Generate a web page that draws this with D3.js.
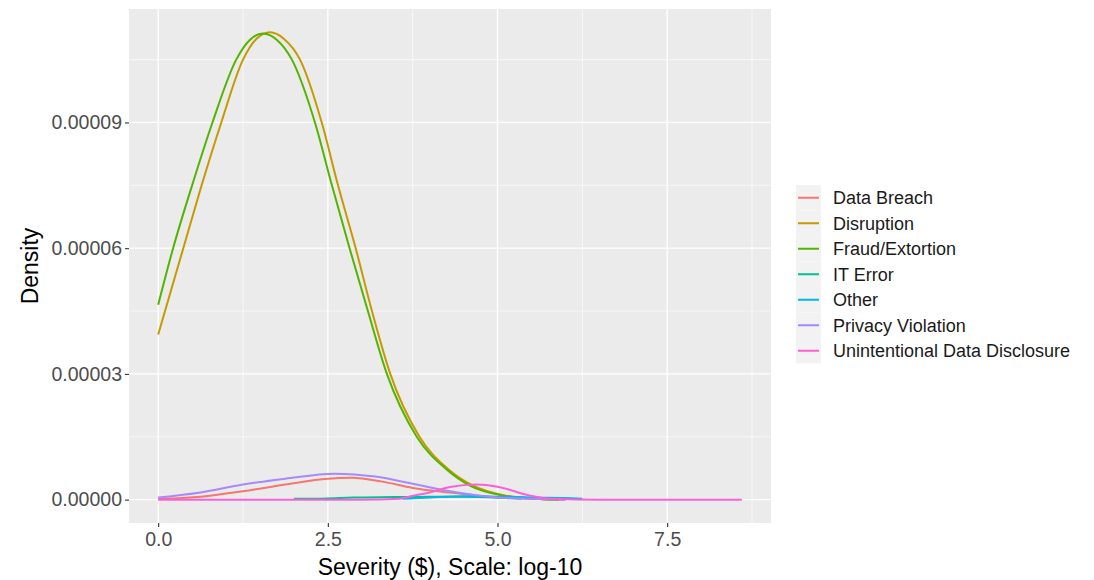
<!DOCTYPE html>
<html>
<head>
<meta charset="utf-8">
<script src="https://cdn.jsdelivr.net/npm/d3@7"></script>
<style>
  body { margin: 0; background: #fff; }
  text { font-family: "Liberation Sans", Arial, sans-serif; }
</style>
</head>
<body>
<div id="chart"></div>
<script>
const width = 1094, height = 580;

// series names, in legend order (ggplot hue palette)
const categories = ["Data Breach", "Disruption", "Fraud/Extortion", "IT Error", "Other", "Privacy Violation", "Unintentional Data Disclosure"];
const colors = ["#F8766D", "#C49A00", "#53B400", "#00C094", "#00B6EB", "#A58AFF", "#FB61D7"];

// density curves: x = log10 severity, y = density
const breachX = [0, 0.625, 1.25, 1.875, 2.5, 2.85, 3.3, 3.75, 4.3, 5.0, 5.5, 6.0];
const breachY = [0.02e-5, 0.07e-5, 0.2e-5, 0.36e-5, 0.5e-5, 0.52e-5, 0.43e-5, 0.28e-5, 0.17e-5, 0.05e-5, 0.02e-5, 0];

const disruptionX = [0, 0.37, 0.64, 0.93, 1.25, 1.45, 1.65, 1.85, 2.09, 2.41, 2.65, 2.91, 3.15, 3.42, 3.85, 4.28, 4.62, 5.1, 5.5, 5.9];
const disruptionY = [3.94e-5, 6.0e-5, 7.5e-5, 9.0e-5, 10.5e-5, 11.0e-5, 11.15e-5, 11.0e-5, 10.5e-5, 9.0e-5, 7.5e-5, 6.0e-5, 4.5e-5, 3.0e-5, 1.5e-5, 0.72e-5, 0.35e-5, 0.1e-5, 0.03e-5, 0];

const fraudX = [0, 0.22, 0.5, 0.8, 1.15, 1.35, 1.54, 1.75, 1.97, 2.31, 2.56, 2.82, 3.09, 3.37, 3.81, 4.25, 4.6, 5.07, 5.5, 5.9];
const fraudY = [4.65e-5, 6.0e-5, 7.5e-5, 9.0e-5, 10.5e-5, 10.97e-5, 11.12e-5, 10.97e-5, 10.5e-5, 9.0e-5, 7.5e-5, 6.0e-5, 4.5e-5, 3.0e-5, 1.5e-5, 0.72e-5, 0.33e-5, 0.1e-5, 0.03e-5, 0];

const itErrorX = [2.0, 2.5, 2.87, 3.5, 4.0, 4.5, 5.0, 5.35];
const itErrorY = [0.02e-5, 0.03e-5, 0.05e-5, 0.06e-5, 0.07e-5, 0.07e-5, 0.05e-5, 0.02e-5];

const otherX = [3.6, 4.0, 4.5, 5.0, 5.5, 6.0, 6.25];
const otherY = [0.02e-5, 0.05e-5, 0.08e-5, 0.07e-5, 0.05e-5, 0.04e-5, 0.02e-5];

const privacyX = [0, 0.625, 1.25, 1.875, 2.6, 3.2, 3.75, 4.3, 5.0, 5.5, 6.0];
const privacyY = [0.05e-5, 0.17e-5, 0.36e-5, 0.5e-5, 0.62e-5, 0.55e-5, 0.38e-5, 0.2e-5, 0.05e-5, 0.02e-5, 0];

const disclosureX = [0, 1, 2, 3, 3.56, 3.72, 4.0, 4.3, 4.69, 5.0, 5.47, 5.8, 6.5, 7.5, 8.6];
const disclosureY = [0, 0, 0, 0, 0.02e-5, 0.08e-5, 0.17e-5, 0.3e-5, 0.36e-5, 0.31e-5, 0.1e-5, 0.02e-5, 0, 0, 0];

const xTicks = [0, 2.5, 5, 7.5];
const yTicks = [0, 0.00003, 0.00006, 0.00009];

const seriesX = [breachX, disruptionX, fraudX, itErrorX, otherX, privacyX, disclosureX];
const seriesY = [breachY, disruptionY, fraudY, itErrorY, otherY, privacyY, disclosureY];
const series = categories.map((name, i) => ({
    name: name,
    color: colors[i],
    values: seriesX[i].map((x, j) => ({ x: x, y: seriesY[i][j] }))
}));

// panel box
const panel = { left: 129, right: 771, top: 9, bottom: 523 };

// ggplot style 5% expansion of the data range
const allX = seriesX.flat(), allY = seriesY.flat();
const xMin = d3.min(allX), xMax = d3.max(allX);
const yMin = d3.min(allY), yMax = d3.max(allY);
const xPad = (xMax - xMin) * 0.05, yPad = (yMax - yMin) * 0.05;

const x = d3.scaleLinear().domain([xMin - xPad, xMax + xPad]).range([panel.left, panel.right]);
const y = d3.scaleLinear().domain([yMin - yPad, yMax + yPad]).range([panel.bottom, panel.top]);

const svg = d3.select("#chart").append("svg").attr("width", width).attr("height", height);

svg.append("rect")
    .attr("x", panel.left).attr("y", panel.top)
    .attr("width", panel.right - panel.left).attr("height", panel.bottom - panel.top)
    .attr("fill", "#EBEBEB");

// minor grid: midpoints between major ticks
const xMinor = xTicks.map(t => t + 1.25).filter(t => t < x.domain()[1]);
const yMinor = yTicks.map(t => t + 0.000015).filter(t => t < y.domain()[1]);

const grid = svg.append("g");
grid.selectAll(".xminor").data(xMinor).enter().append("line")
    .attr("x1", d => x(d)).attr("x2", d => x(d))
    .attr("y1", panel.top).attr("y2", panel.bottom)
    .attr("stroke", "#fff").attr("stroke-width", 0.6);
grid.selectAll(".yminor").data(yMinor).enter().append("line")
    .attr("x1", panel.left).attr("x2", panel.right)
    .attr("y1", d => y(d)).attr("y2", d => y(d))
    .attr("stroke", "#fff").attr("stroke-width", 0.6);
grid.selectAll(".xmajor").data(xTicks).enter().append("line")
    .attr("x1", d => x(d)).attr("x2", d => x(d))
    .attr("y1", panel.top).attr("y2", panel.bottom)
    .attr("stroke", "#fff").attr("stroke-width", 1.3);
grid.selectAll(".ymajor").data(yTicks).enter().append("line")
    .attr("x1", panel.left).attr("x2", panel.right)
    .attr("y1", d => y(d)).attr("y2", d => y(d))
    .attr("stroke", "#fff").attr("stroke-width", 1.3);

// axes
const xAxis = svg.append("g")
    .attr("transform", `translate(0,${panel.bottom})`)
    .call(d3.axisBottom(x).tickValues(xTicks).tickFormat(d3.format(".1f")).tickSize(4).tickPadding(5));
const yAxis = svg.append("g")
    .attr("transform", `translate(${panel.left},0)`)
    .call(d3.axisLeft(y).tickValues(yTicks).tickFormat(d3.format(".5f")).tickSize(4).tickPadding(3));

[xAxis, yAxis].forEach(a => {
    a.select(".domain").remove();
    a.selectAll(".tick line").attr("stroke", "#333").attr("stroke-width", 1.1);
    a.selectAll(".tick text")
        .attr("fill", "#4D4D4D")
        .style("font-size", "19.5px")
        .style("font-family", "'Liberation Sans', Arial, sans-serif");
});

// curves
const line = d3.line()
    .x(d => x(d.x))
    .y(d => y(d.y))
    .curve(d3.curveMonotoneX);

svg.append("g").selectAll("path")
    .data(series)
    .enter().append("path")
    .attr("d", d => line(d.values))
    .attr("fill", "none")
    .attr("stroke", d => d.color)
    .attr("stroke-width", 2);

// axis titles
svg.append("text")
    .attr("x", (panel.left + panel.right) / 2)
    .attr("y", 575)
    .attr("text-anchor", "middle")
    .style("font-size", "23px")
    .attr("fill", "#000")
    .text("Severity ($), Scale: log-10");

svg.append("text")
    .attr("transform", `translate(38,${(panel.top + panel.bottom) / 2}) rotate(-90)`)
    .attr("text-anchor", "middle")
    .style("font-size", "23px")
    .attr("fill", "#000")
    .text("Density");

// legend
const legend = svg.append("g").attr("transform", "translate(796,185)");
const keySize = 25.5;

const rows = legend.selectAll("g")
    .data(series)
    .enter().append("g")
    .attr("transform", (d, i) => `translate(0,${i * keySize})`);

rows.append("rect")
    .attr("width", 25).attr("height", keySize)
    .attr("fill", "#F2F2F2");

rows.append("line")
    .attr("x1", 2).attr("x2", 23)
    .attr("y1", keySize / 2).attr("y2", keySize / 2)
    .attr("stroke", d => d.color)
    .attr("stroke-width", 2);

rows.append("text")
    .attr("x", 37)
    .attr("y", keySize / 2)
    .attr("dy", "0.35em")
    .style("font-size", "18px")
    .attr("fill", "#1A1A1A")
    .text(d => d.name);
</script>
</body>
</html>
